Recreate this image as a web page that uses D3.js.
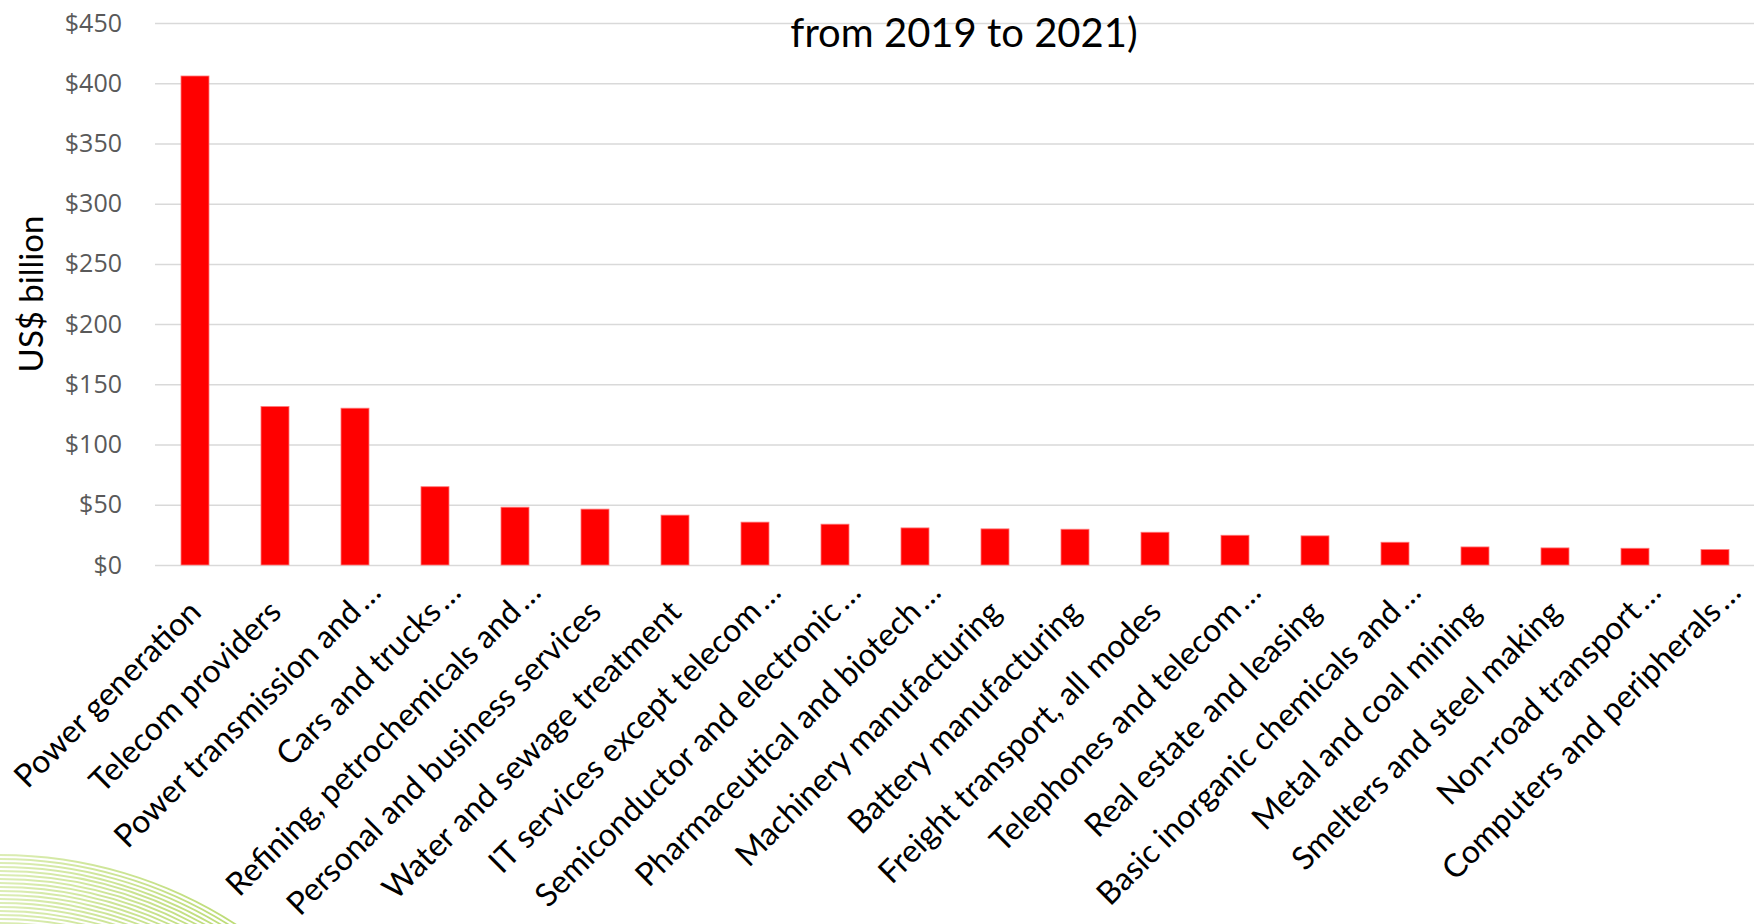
<!DOCTYPE html>
<html>
<head>
<meta charset="utf-8">
<script src="https://cdn.jsdelivr.net/npm/d3@7/dist/d3.min.js"></script>
<style>
  html, body { margin: 0; padding: 0; background: #ffffff; }
  svg { display: block; }
</style>
</head>
<body>
<svg id="chart" width="1754" height="924"></svg>
<script>
const categories = [
  "Power generation", "Telecom providers", "Power transmission and…", "Cars and trucks…",
  "Refining, petrochemicals and…", "Personal and business services", "Water and sewage treatment",
  "IT services except telecom…", "Semiconductor and electronic…", "Pharmaceutical and biotech…",
  "Machinery manufacturing", "Battery manufacturing", "Freight transport, all modes",
  "Telephones and telecom…", "Real estate and leasing", "Basic inorganic chemicals and…",
  "Metal and coal mining", "Smelters and steel making", "Non-road transport…", "Computers and peripherals…"
];
const values = [406, 131.6, 130.2, 65, 48, 46.4, 41.4, 35.6, 33.9, 30.8, 30, 29.7, 27.2, 24.7, 24.2, 18.9, 15, 14.2, 13.9, 12.8];
const yTickValues = [0, 50, 100, 150, 200, 250, 300, 350, 400, 450];
const yTickLabels = ["$0", "$50", "$100", "$150", "$200", "$250", "$300", "$350", "$400", "$450"];
const titleText = "from 2019 to 2021)";
const yAxisTitle = "US$ billion";

const svg = d3.select("#chart");
const W = 1754, H = 924;
const plot = { left: 155, right: 1755, top: 23, bottom: 565 };

// decorative swoosh (slide background)
const defs = svg.append("defs");
const grad = defs.append("linearGradient").attr("id", "swoosh")
  .attr("gradientUnits", "userSpaceOnUse").attr("x1", 0).attr("y1", 0).attr("x2", 240).attr("y2", 0);
grad.append("stop").attr("offset", "0").attr("stop-color", "#dcedb5");
grad.append("stop").attr("offset", "1").attr("stop-color", "#bcdb74");
const swoosh = svg.append("g");
const cx0 = 0, cy0 = 1290;
d3.range(18).forEach(k => {
  const R = 435 - 4 * k;
  const yEnd = H + 2;
  const dy = cy0 - yEnd;
  const xEnd = Math.sqrt(Math.max(R * R - dy * dy, 0));
  const p = d3.path();
  p.moveTo(0, cy0 - R);
  p.arc(cx0, cy0, R, -Math.PI / 2, Math.atan2(yEnd - cy0, xEnd), false);
  swoosh.append("path").attr("d", p.toString()).attr("fill", "none")
    .attr("stroke", "url(#swoosh)").attr("stroke-width", 1.8);
});

const x = d3.scaleBand().domain(categories).range([plot.left, plot.right])
  .paddingInner(0.65).paddingOuter(0.325);
const y = d3.scaleLinear().domain([0, 450]).range([plot.bottom, plot.top]);

// gridlines
const grid = svg.append("g").attr("transform", `translate(${plot.left},0)`)
  .call(d3.axisLeft(y).tickValues(yTickValues).tickSize(-(plot.right - plot.left)).tickFormat(""));
grid.select(".domain").remove();
grid.selectAll("line").attr("stroke", "#d9d9d9").attr("stroke-width", 1.5);

// y tick labels
const yAx = svg.append("g").attr("transform", `translate(${plot.left},0)`)
  .call(d3.axisLeft(y).tickValues(yTickValues).tickSize(0).tickPadding(33)
    .tickFormat((d, i) => yTickLabels[i]));
yAx.select(".domain").remove();
yAx.selectAll("text").attr("font-family", "'Open Sans', sans-serif").attr("font-size", 25)
  .attr("fill", "#595959");

// bars
svg.append("g").selectAll("rect").data(values).join("rect")
  .attr("x", (d, i) => x(categories[i]))
  .attr("width", x.bandwidth())
  .attr("y", d => y(d))
  .attr("height", d => y(0) - y(d))
  .attr("fill", "#ff0000")
  .attr("stroke", "#ff7a7a").attr("stroke-width", 0.8);

// x labels
const xl = svg.append("g");
categories.forEach((c, i) => {
  const ax = x(c) + x.bandwidth() / 2 + 8;
  const ay = plot.bottom + 49;
  const g = xl.append("g").attr("transform", `translate(${ax},${ay}) rotate(-45)`);
  const t = g.append("text").attr("font-family", "Lato, sans-serif").attr("font-size", 32)
    .attr("fill", "#000").attr("text-anchor", "start");
  const truncated = c.endsWith("…");
  const main = truncated ? c.slice(0, -1) : c;
  t.append("tspan").text(main);
  if (truncated) t.append("tspan").attr("dx", 4).text("…");
  const len = t.node().getSubStringLength(0, main.length);
  t.attr("x", -len);
});

// y axis title
svg.append("text").attr("transform", `translate(43,294) rotate(-90)`)
  .attr("text-anchor", "middle").attr("font-family", "Lato, sans-serif").attr("font-size", 33)
  .attr("fill", "#000").text(yAxisTitle);

// title (second line visible)
svg.append("text").attr("x", 964).attr("y", 47).attr("text-anchor", "middle")
  .attr("font-family", "Lato, sans-serif").attr("font-size", 40).attr("fill", "#000")
  .text(titleText);
</script>
</body>
</html>
